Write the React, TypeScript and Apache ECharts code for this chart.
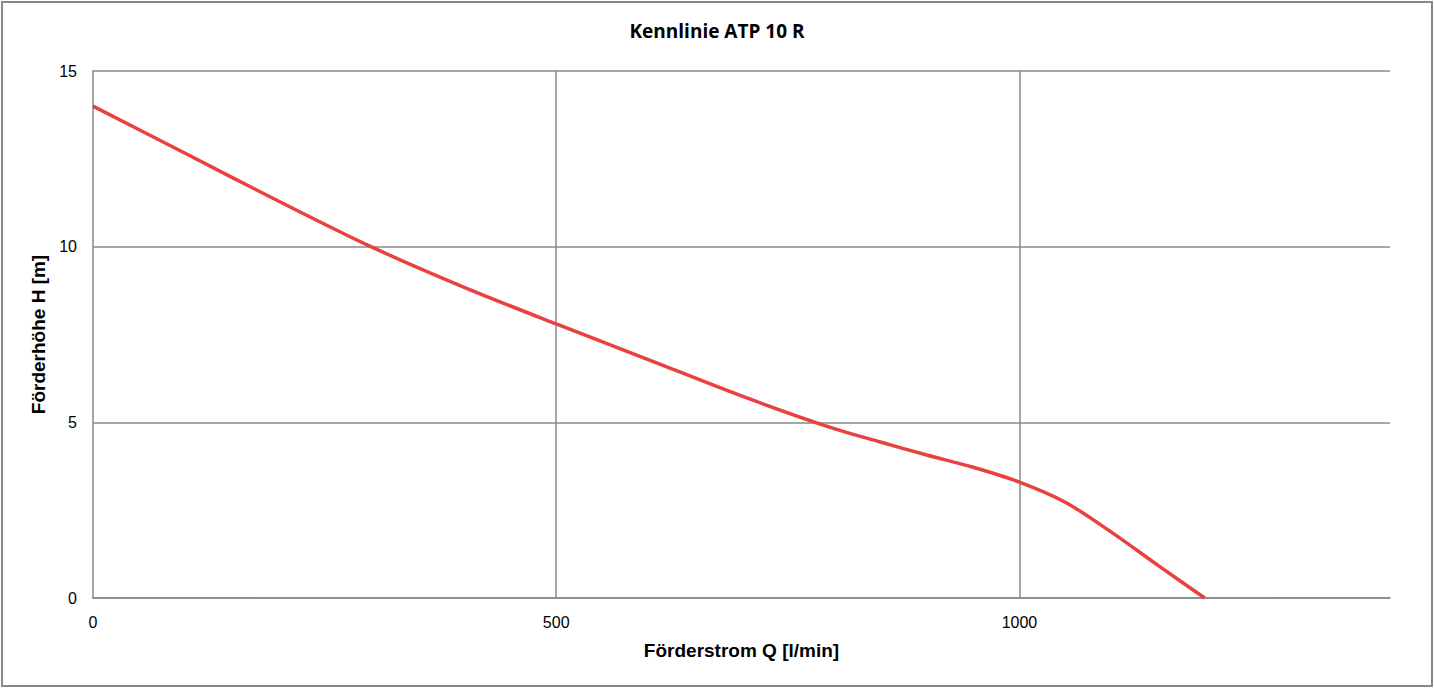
import React, { useEffect, useRef } from "react";
import * as echarts from "echarts";

const flowQ: number[] = [0, 100, 200, 300, 400, 500, 600, 700, 800, 850, 900, 950, 1000, 1050, 1100, 1150, 1200];
const headH: number[] = [14.0, 12.65, 11.3, 10.0, 8.85, 7.8, 6.78, 5.75, 4.82, 4.44, 4.07, 3.72, 3.3, 2.72, 1.86, 0.92, 0];
const xTicks = { min: 0, max: 1400, interval: 500 };
const yTicks = { min: 0, max: 15, interval: 5 };

export default function App() {
  const ref = useRef<HTMLDivElement>(null);
  useEffect(() => {
    document.body.style.margin = "0";
    if (!ref.current) return;
    const chart = echarts.init(ref.current, undefined, { renderer: "svg" });
    const grid = "#888888";
    chart.setOption({
      animation: false,
      backgroundColor: "#ffffff",
      title: {
        text: "Kennlinie ATP 10 R",
        left: "center",
        top: 16,
        textStyle: { fontFamily: "Open Sans", fontWeight: "bold", fontSize: 19, color: "#000" },
      },
      graphic: [
        {
          type: "rect",
          shape: { x: 2, y: 2, width: 1430, height: 684 },
          style: { fill: "none", stroke: grid, lineWidth: 2 },
          silent: true,
        },
      ],
      grid: { left: 93, top: 71, right: 44, bottom: 90 },
      xAxis: {
        type: "value",
        min: xTicks.min,
        max: xTicks.max,
        interval: xTicks.interval,
        name: "Förderstrom Q [l/min]",
        nameLocation: "middle",
        nameGap: 43,
        nameTextStyle: { fontFamily: "Liberation Sans", fontWeight: "bold", fontSize: 19, color: "#000" },
        axisLine: { show: true, lineStyle: { color: grid, width: 1.5 } },
        axisTick: { show: false },
        axisLabel: {
          showMaxLabel: false,
          margin: 16,
          fontFamily: "Liberation Sans",
          fontSize: 16,
          color: "#000",
          formatter: (v: number) => String(v),
        },
        splitLine: { show: true, showMaxLine: false, showMinLine: false, lineStyle: { color: grid, width: 1.5 } },
      },
      yAxis: {
        type: "value",
        min: yTicks.min,
        max: yTicks.max,
        interval: yTicks.interval,
        name: "Förderhöhe H [m]",
        nameLocation: "middle",
        nameGap: 43,
        nameTextStyle: { fontFamily: "Liberation Sans", fontWeight: "bold", fontSize: 19, color: "#000" },
        axisLine: { show: true, lineStyle: { color: grid, width: 1.5 } },
        axisTick: { show: false },
        axisLabel: { margin: 16, fontFamily: "Liberation Sans", fontSize: 16, color: "#000" },
        splitLine: { show: true, lineStyle: { color: grid, width: 1.5 } },
      },
      series: [
        {
          type: "line",
          data: flowQ.map((q, i) => [q, headH[i]]),
          smooth: 0.3,
          showSymbol: false,
          lineStyle: { color: "#e8413f", width: 3.5 },
        },
      ],
    });
    return () => chart.dispose();
  }, []);
  return <div ref={ref} style={{ width: 1434, height: 688 }} />;
}
